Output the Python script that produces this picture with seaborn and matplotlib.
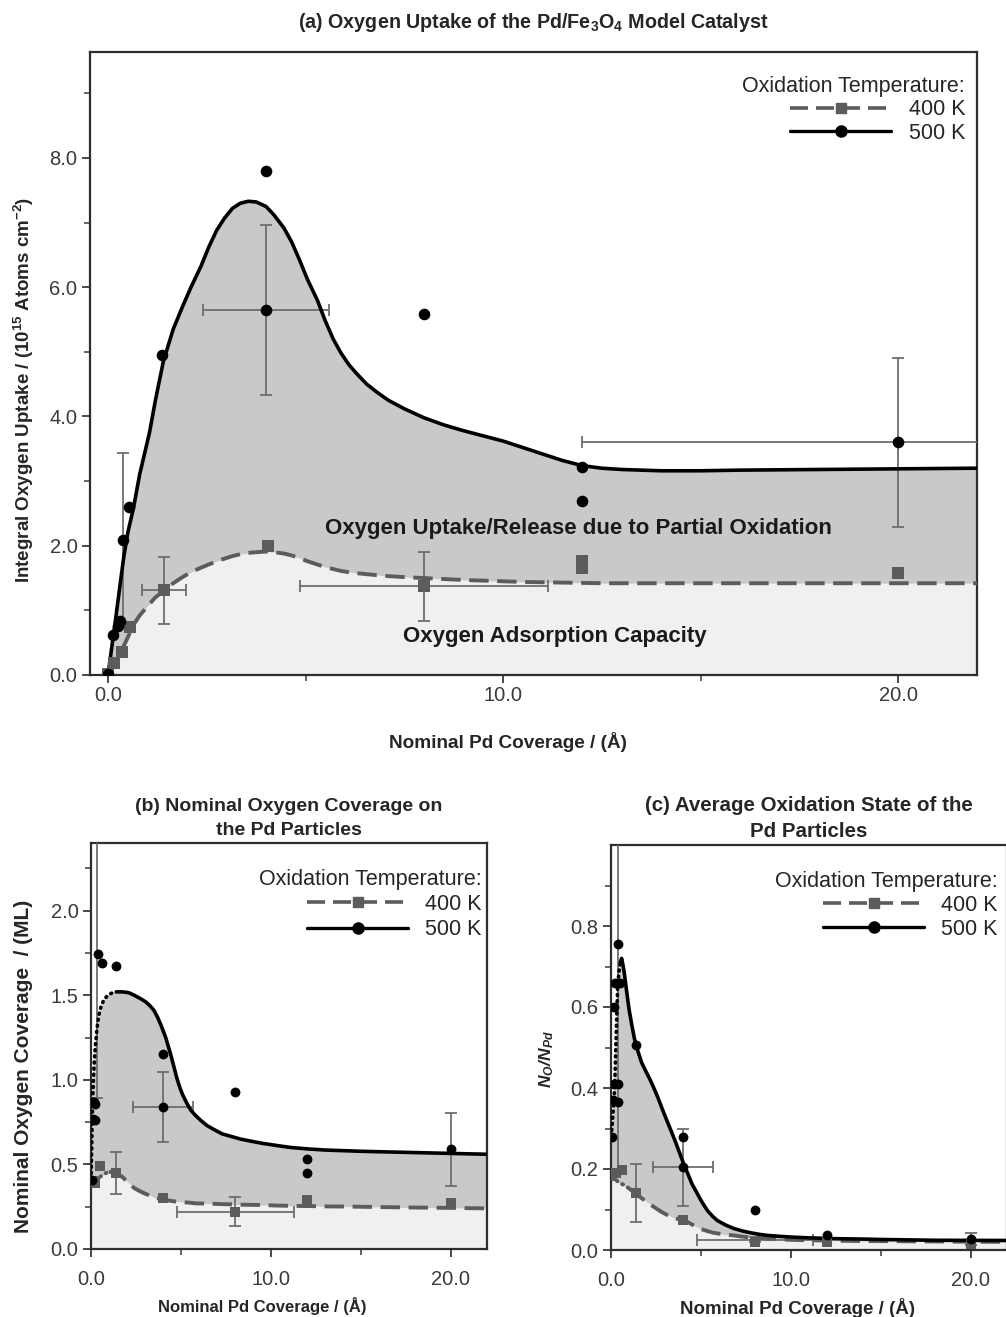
import numpy as np
import pandas as pd
import matplotlib
matplotlib.use("Agg")
import matplotlib.pyplot as plt
from matplotlib.lines import Line2D
import seaborn as sns

# ---------------- panel (a): integral oxygen uptake (1e15 atoms / cm^2) ----------------
a_pts500_x = [0.0, 0.13, 0.26, 0.3, 0.38, 0.52, 1.36, 4.0, 4.0, 8.0, 12.0, 12.0, 20.0]
a_pts500_y = [0.02, 0.62, 0.76, 0.83, 2.09, 2.6, 4.95, 7.8, 5.65, 5.58, 3.22, 2.7, 3.6]
a_pts400_x = [0.0, 0.15, 0.35, 0.56, 1.42, 4.06, 8.0, 12.0, 12.0, 20.0]
a_pts400_y = [0.02, 0.18, 0.36, 0.75, 1.31, 1.99, 1.37, 1.65, 1.76, 1.58]

# fitted curves, sampled on a common coverage grid
a_grid = [0, 0.1, 0.2, 0.3, 0.4, 0.5, 0.65, 0.8, 1.05, 1.2,
          1.4, 1.65, 1.9, 2.1, 2.35, 2.55, 2.75, 2.95, 3.15, 3.35,
          3.55, 3.75, 4.0, 4.2, 4.45, 4.65, 4.85, 5.05, 5.3, 5.5,
          5.7, 5.9, 6.1, 6.3, 6.55, 6.8, 7.1, 7.5, 8.0, 8.5,
          9.0, 9.5, 10, 10.5, 11, 11.5, 12, 12.5, 13, 14,
          15, 16, 18, 20, 22]
a_fit500 = [0, 0.45, 0.9, 1.37, 1.83, 2.2, 2.6, 3.1, 3.75, 4.25,
            4.85, 5.35, 5.72, 6.0, 6.32, 6.62, 6.88, 7.07, 7.22, 7.3,
            7.33, 7.32, 7.25, 7.12, 6.92, 6.7, 6.42, 6.12, 5.8, 5.48,
            5.2, 4.98, 4.8, 4.66, 4.5, 4.38, 4.25, 4.12, 3.98, 3.87,
            3.78, 3.7, 3.62, 3.52, 3.42, 3.32, 3.24, 3.2, 3.18, 3.16,
            3.16, 3.17, 3.18, 3.19, 3.2]
a_fit400 = [0, 0.11, 0.22, 0.33, 0.45, 0.58, 0.78, 0.92, 1.1, 1.2,
            1.3, 1.42, 1.52, 1.59, 1.66, 1.71, 1.76, 1.8, 1.84, 1.87,
            1.89, 1.9, 1.91, 1.9, 1.88, 1.85, 1.81, 1.76, 1.71, 1.67,
            1.64, 1.61, 1.59, 1.575, 1.56, 1.545, 1.53, 1.515, 1.5, 1.485,
            1.47, 1.46, 1.45, 1.44, 1.435, 1.43, 1.425, 1.42, 1.42, 1.42,
            1.42, 1.42, 1.42, 1.42, 1.42]

# error bars: (x, y, xerr, yerr)
a_err500 = [(0.38, 2.1, 0.0, 1.33), (4.0, 5.65, 1.6, 1.31), (20.0, 3.6, 8.0, 1.31)]
a_err400 = [(1.42, 1.31, 0.55, 0.52), (8.0, 1.37, 3.14, 0.53)]

# ---------------- panel (b): nominal oxygen coverage (ML) ----------------
b_pts500_x = [0.4, 0.6, 1.4, 0.15, 0.2, 0.1, 0.2, 0.05, 4.0, 4.0, 8.0, 12.0, 12.0, 20.0]
b_pts500_y = [1.745, 1.69, 1.67, 0.87, 0.86, 0.77, 0.76, 0.41, 1.15, 0.84, 0.93, 0.53, 0.45, 0.59]
b_pts400_x = [0.1, 0.2, 0.5, 1.4, 4.0, 8.0, 12.0, 20.0]
b_pts400_y = [0.40, 0.39, 0.49, 0.45, 0.30, 0.22, 0.29, 0.27]

b_grid = [0, 0.02, 0.04, 0.06, 0.08, 0.1, 0.13, 0.17, 0.24, 0.33,
          0.43, 0.55, 0.7, 0.85, 1.0, 1.2, 1.4, 1.75, 2.1, 2.4,
          2.75, 3.05, 3.3, 3.5, 3.7, 3.9, 4.15, 4.4, 4.6, 4.77,
          4.95, 5.1, 5.33, 5.55, 5.8, 6.1, 6.44, 6.85, 7.3, 7.8,
          8.3, 8.9, 9.5, 10.3, 11.1, 12, 13, 14.9, 16, 18,
          20, 22]
b_fit500 = [0.41, 0.5, 0.6, 0.72, 0.82, 0.9, 0.99, 1.08, 1.2, 1.3,
            1.38, 1.43, 1.47, 1.49, 1.505, 1.515, 1.52, 1.52, 1.515, 1.5,
            1.48, 1.46, 1.435, 1.41, 1.37, 1.32, 1.25, 1.16, 1.08, 1.01,
            0.95, 0.91, 0.86, 0.82, 0.79, 0.76, 0.73, 0.705, 0.68, 0.665,
            0.65, 0.637, 0.625, 0.612, 0.60, 0.592, 0.585, 0.578, 0.575, 0.57,
            0.565, 0.56]
b_fit400 = [0.37, 0.372, 0.375, 0.378, 0.38, 0.383, 0.387, 0.393, 0.40, 0.41,
            0.42, 0.43, 0.44, 0.45, 0.455, 0.456, 0.45, 0.425, 0.39, 0.36,
            0.34, 0.325, 0.315, 0.305, 0.30, 0.295, 0.29, 0.285, 0.282, 0.28,
            0.278, 0.277, 0.275, 0.273, 0.27, 0.269, 0.268, 0.267, 0.265, 0.264,
            0.262, 0.261, 0.26, 0.257, 0.255, 0.254, 0.252, 0.25, 0.248, 0.245,
            0.243, 0.24]
b_err500 = [(0.33, 1.745, 0.0, 0.85), (4.0, 0.84, 1.67, 0.205), (20.0, 0.59, 0.0, 0.215)]
b_err400 = [(1.4, 0.45, 0.0, 0.125), (8.0, 0.22, 3.25, 0.085)]

# ---------------- panel (c): average oxidation state N_O / N_Pd ----------------
c_pts500_x = [0.37, 0.22, 0.5, 0.19, 0.19, 0.41, 0.09, 0.37, 0.06, 1.39, 4.0, 4.0, 8.0, 12.0, 20.0]
c_pts500_y = [0.755, 0.66, 0.66, 0.60, 0.41, 0.41, 0.37, 0.365, 0.28, 0.507, 0.28, 0.204, 0.099, 0.036, 0.027]
c_pts400_x = [0.05, 0.28, 0.6, 1.39, 4.0, 8.0, 12.0, 20.0]
c_pts400_y = [0.183, 0.19, 0.197, 0.14, 0.074, 0.02, 0.02, 0.016]

c_grid = [0, 0.05, 0.1, 0.15, 0.2, 0.25, 0.3, 0.37, 0.45, 0.52,
          0.59, 0.66, 0.75, 0.85, 1.0, 1.15, 1.3, 1.5, 1.7, 1.95,
          2.2, 2.4, 2.6, 2.85, 3.1, 3.35, 3.6, 3.85, 4.06, 4.3,
          4.5, 4.75, 4.98, 5.2, 5.4, 5.65, 5.9, 6.35, 6.83, 7.3,
          7.7, 8.2, 8.7, 9.3, 10, 11, 12.4, 14, 15, 18,
          22]
c_fit500 = [0.28, 0.30, 0.33, 0.36, 0.40, 0.47, 0.55, 0.65, 0.69, 0.71,
            0.72, 0.705, 0.68, 0.645, 0.595, 0.557, 0.522, 0.49, 0.463, 0.44,
            0.418, 0.398, 0.377, 0.348, 0.32, 0.293, 0.265, 0.235, 0.21, 0.185,
            0.163, 0.143, 0.124, 0.108, 0.095, 0.083, 0.073, 0.062, 0.053, 0.047,
            0.043, 0.039, 0.036, 0.034, 0.032, 0.03, 0.028, 0.027, 0.026, 0.024,
            0.0235]
c_fit400 = [0.18, 0.179, 0.178, 0.177, 0.176, 0.174, 0.172, 0.169, 0.167, 0.165,
            0.163, 0.162, 0.16, 0.157, 0.152, 0.147, 0.141, 0.135, 0.128, 0.12,
            0.112, 0.106, 0.1, 0.093, 0.087, 0.082, 0.078, 0.075, 0.073, 0.068,
            0.063, 0.057, 0.052, 0.049, 0.046, 0.043, 0.041, 0.038, 0.036, 0.033,
            0.031, 0.03, 0.028, 0.027, 0.025, 0.024, 0.023, 0.022, 0.022, 0.021,
            0.02]
c_err500 = [(0.37, 0.755, 0.0, 0.565), (4.0, 0.204, 1.64, 0.095), (20.0, 0.027, 0.0, 0.015)]
c_err400 = [(1.39, 0.14, 0.0, 0.072), (8.0, 0.025, 3.2, 0.006)]

TEMPS = ["400 K", "500 K"]

# ---------------- styling ----------------
sns.set_style("ticks")
plt.rcParams["font.family"] = ["Liberation Sans", "DejaVu Sans"]
plt.rcParams["mathtext.default"] = "regular"

C_LIGHT = "#f0f0f0"
C_MID = "#c9c9c9"
C_400 = "#5c5c5c"
C_ERR = "#6e6e6e"
TICK_C = "#3a3a3a"
DASH = (0, (5, 2.2))
DOT = (0, (0.3, 1.4))

fig = plt.figure(figsize=(10.06, 13.17), dpi=100)
W, H = 1006.0, 1317.0


def make_axes(left, top, right, bottom):
    return fig.add_axes([left / W, 1 - bottom / H, (right - left) / W, (bottom - top) / H])


ax_a = make_axes(90, 52, 977, 675)
ax_b = make_axes(91, 843, 487, 1249)
ax_c = make_axes(611, 845, 1007, 1250)


def draw_curve(ax, grid, y, color, style, dot_until=None, lw=2.6, z=4):
    df = pd.DataFrame({"x": grid, "y": y})
    if dot_until is not None:
        head = df[df.x <= dot_until]
        tail = df[df.x >= dot_until]
        sns.lineplot(data=head, x="x", y="y", ax=ax, color=color, lw=lw, sort=False,
                     estimator=None, linestyle=DOT, dash_capstyle="round", legend=False,
                     zorder=z)
        df = tail
    sns.lineplot(data=df, x="x", y="y", ax=ax, color=color, lw=lw, sort=False,
                 estimator=None, linestyle=style, legend=False, zorder=z)


def draw_errors(ax, errs, capsize=4):
    for x, y, xe, ye in errs:
        ax.errorbar([x], [y], xerr=[xe] if xe else None, yerr=[ye] if ye else None,
                    fmt="none", ecolor=C_ERR, elinewidth=1.3, capsize=capsize,
                    capthick=1.3, zorder=3)


def draw_panel(ax, grid, f400, f500, p400x, p400y, p500x, p500y, e400, e500,
               dot400=None, dot500=None, ms=60):
    ax.fill_between(grid, 0, f400, color=C_LIGHT, lw=0, zorder=1)
    ax.fill_between(grid, f400, f500, color=C_MID, lw=0, zorder=1)
    draw_errors(ax, e400)
    draw_errors(ax, e500)
    draw_curve(ax, grid, f400, C_400, DASH, dot_until=dot400, lw=2.8)
    draw_curve(ax, grid, f500, "black", "-", dot_until=dot500, lw=2.6)
    sns.scatterplot(x=p400x, y=p400y, ax=ax, marker="s", color=C_400, s=ms * 0.9,
                    edgecolor=C_400, linewidth=0, zorder=5, legend=False)
    sns.scatterplot(x=p500x, y=p500y, ax=ax, marker="o", color="black", s=ms,
                    edgecolor="black", linewidth=0, zorder=6, legend=False)


def style_axes(ax, xlim, ylim, ymaj, ymin, xpad):
    ax.set_xlim(*xlim)
    ax.set_ylim(*ylim)
    ax.set_xticks([0, 10, 20])
    ax.set_xticks([5, 15], minor=True)
    ax.set_yticks(ymaj)
    ax.set_yticks(ymin, minor=True)
    ax.xaxis.set_major_formatter(matplotlib.ticker.FormatStrFormatter("%.1f"))
    ax.yaxis.set_major_formatter(matplotlib.ticker.FormatStrFormatter("%.1f"))
    ax.tick_params(which="major", length=6, width=1.3, color=TICK_C, labelsize=14.5,
                   labelcolor=TICK_C, direction="out", pad=3)
    ax.tick_params(axis="x", which="major", pad=xpad)
    ax.tick_params(which="minor", length=4, width=1.1, color=TICK_C, direction="out")
    for sp in ax.spines.values():
        sp.set_visible(True)
        sp.set_color("#2e2e2e")
        sp.set_linewidth(1.6)


def add_legend(ax, ax_x, ax_y, fs=15.5, spacing=0.12):
    handles = [
        Line2D([], [], color=C_400, lw=2.6, linestyle=DASH, marker="s", ms=7),
        Line2D([], [], color="black", lw=2.4, marker="o", ms=8),
    ]
    leg = ax.legend(handles, TEMPS, title="Oxidation Temperature:", loc="upper right",
                    bbox_to_anchor=(ax_x, ax_y), borderaxespad=0, borderpad=0,
                    frameon=False, fontsize=fs, title_fontsize=fs, handlelength=4.7,
                    handletextpad=0.8, labelspacing=spacing, alignment="right")
    leg.set_zorder(10)


# ---- (a) ----
draw_panel(ax_a, a_grid, a_fit400, a_fit500, a_pts400_x, a_pts400_y,
           a_pts500_x, a_pts500_y, a_err400, a_err500, ms=70)
style_axes(ax_a, (-0.456, 22.0), (0, 9.64), [0, 2, 4, 6, 8], [1, 3, 5, 7, 9], xpad=2)
add_legend(ax_a, 0.9865, 0.962)
ax_a.text(11.9, 2.26, "Oxygen Uptake/Release due to Partial Oxidation", ha="center",
          va="center", fontsize=16, fontweight="bold", color="#1a1a1a", zorder=7)
ax_a.text(11.3, 0.59, "Oxygen Adsorption Capacity", ha="center", va="center",
          fontsize=16, fontweight="bold", color="#1a1a1a", zorder=7)
ax_a.set_xlabel("Nominal Pd Coverage / (Å)", fontsize=13.7, fontweight="bold")
ax_a.xaxis.set_label_coords(0.471, -0.091)
ax_a.set_ylabel("Integral Oxygen Uptake / (10$^{15}$ Atoms cm$^{-2}$)", fontsize=13.5,
                fontweight="bold")
ax_a.yaxis.set_label_coords(-0.061, 0.457)
fig.text(533.5 / W, 1 - 22 / H, "(a) Oxygen Uptake of the Pd/Fe$_3$O$_4$ Model Catalyst",
         ha="center", va="center", fontsize=14.2, fontweight="bold")

# ---- (b) ----
draw_panel(ax_b, b_grid, b_fit400, b_fit500, b_pts400_x, b_pts400_y,
           b_pts500_x, b_pts500_y, b_err400, b_err500, dot400=1.0, dot500=1.4, ms=50)
style_axes(ax_b, (0, 22.0), (0, 2.4), [0, 0.5, 1.0, 1.5, 2.0],
           [0.25, 0.75, 1.25, 1.75, 2.25], xpad=9)
add_legend(ax_b, 0.987, 0.937, spacing=0.2)
ax_b.set_title("(b) Nominal Oxygen Coverage on\nthe Pd Particles", fontsize=14,
               fontweight="bold", pad=6, linespacing=1.5)
ax_b.set_xlabel("Nominal Pd Coverage / (Å)", fontsize=12, fontweight="bold")
ax_b.xaxis.set_label_coords(0.432, -0.118)
ax_b.set_ylabel("Nominal Oxygen Coverage  / (ML)", fontsize=15, fontweight="bold")
ax_b.yaxis.set_label_coords(-0.147, 0.45)

# ---- (c) ----
draw_panel(ax_c, c_grid, c_fit400, c_fit500, c_pts400_x, c_pts400_y,
           c_pts500_x, c_pts500_y, c_err400, c_err500, dot400=1.0, dot500=0.52, ms=50)
style_axes(ax_c, (0, 22.0), (0, 1.0), [0, 0.2, 0.4, 0.6, 0.8],
           [0.1, 0.3, 0.5, 0.7, 0.9], xpad=9)
add_legend(ax_c, 0.977, 0.937, spacing=0.15)
ax_c.set_title("(c) Average Oxidation State of the\nPd Particles", fontsize=14.8,
               fontweight="bold", pad=6, linespacing=1.45)
ax_c.set_xlabel("Nominal Pd Coverage / (Å)", fontsize=13.5, fontweight="bold")
ax_c.xaxis.set_label_coords(0.47, -0.118)
ax_c.set_ylabel("$N_O/N_{Pd}$", fontsize=12.5, fontweight="bold", style="italic")
ax_c.yaxis.set_label_coords(-0.139, 0.472)

fig.savefig("out.png", dpi=100)
